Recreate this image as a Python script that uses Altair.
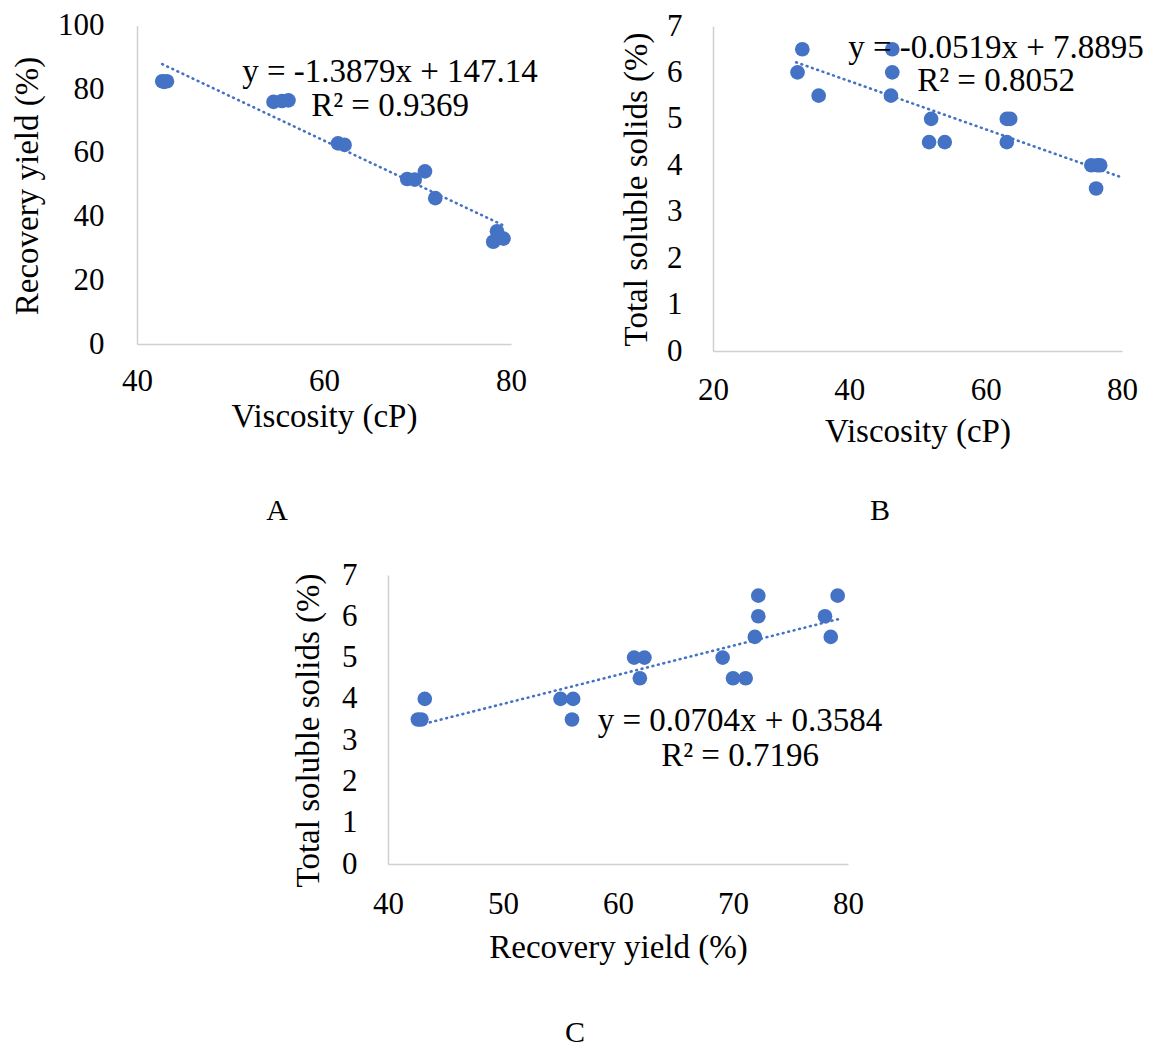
import altair as alt
import pandas as pd

# ---------------- data ----------------
# Panel A: Viscosity (cP) vs Recovery yield (%)
visc_A = [42.7, 42.9, 43.2, 54.6, 55.5, 56.2, 61.5, 62.2, 68.9, 69.7, 70.8, 71.9, 78.5, 78.1, 79.2]
yield_A = [82.5, 82.3, 82.5, 76.0, 76.3, 76.5, 63.0, 62.5, 51.8, 51.6, 54.2, 45.8, 35.4, 32.1, 33.1]
trend_A = [-1.3879, 147.14]
trend_x_A = [42.7, 79.2]
eq_A = ["y = -1.3879x + 147.14", "R² = 0.9369"]

# Panel B: Viscosity (cP) vs Total soluble solids (%)
visc_B = [33.1, 32.4, 35.5, 46.3, 46.3, 46.1, 52.0, 51.7, 54.0, 63.1, 63.6, 63.1, 75.5, 76.4, 76.8, 76.2]
tss_B = [6.5, 6.0, 5.5, 6.5, 6.0, 5.5, 5.0, 4.5, 4.5, 5.0, 5.0, 4.5, 4.0, 4.0, 4.0, 3.5]
trend_B = [-0.0519, 7.8895]
trend_x_B = [32.2, 80.0]
eq_B = ["y = -0.0519x + 7.8895", "R² = 0.8052"]

# Panel C: Recovery yield (%) vs Total soluble solids (%)
yield_C = [43.2, 42.6, 42.9, 55.0, 56.1, 56.0, 61.4, 62.3, 61.9, 69.1, 70.0, 71.1, 72.2, 72.2, 71.9, 78.0, 79.1, 78.5]
tss_C = [4.0, 3.5, 3.5, 4.0, 4.0, 3.5, 5.0, 5.0, 4.5, 5.0, 4.5, 4.5, 6.5, 6.0, 5.5, 6.0, 6.5, 5.5]
trend_C = [0.0704, 0.3584]
trend_x_C = [42.7, 79.5]
eq_C = ["y = 0.0704x + 0.3584", "R² = 0.7196"]

ticks_x_A = [40, 60, 80]
ticks_y_A = [0, 20, 40, 60, 80, 100]
ticks_x_B = [20, 40, 60, 80]
ticks_y_B = [0, 1, 2, 3, 4, 5, 6, 7]
ticks_x_C = [40, 50, 60, 70, 80]
ticks_y_C = [0, 1, 2, 3, 4, 5, 6, 7]

panel_letters = ["A", "B", "C"]

# ---------------- styling / layout ----------------
FONT = "Liberation Serif"
BLUE = "#4472C4"
W, H = 1145, 1041


def panel(xs, ys, xtitle, ytitle, xdom, ydom, xpx, ypx, xticks, yticks,
          coef, line_x, eq, eq_pos, eq_lh, xlab_base, xtitle_base, ylab_pad,
          ytitle_x, ytitle_y):
    pts = pd.DataFrame({"x": xs, "y": ys})
    line = pd.DataFrame({"x": line_x})
    xscale = alt.Scale(domain=xdom, range=xpx, nice=False, zero=False)
    yscale = alt.Scale(domain=ydom, range=ypx, nice=False, zero=False)
    xaxis = alt.Axis(
        orient="bottom", offset=ypx[0] - H, values=xticks, grid=False,
        ticks=False, tickSize=0, labelBaseline="alphabetic",
        labelPadding=xlab_base, title=xtitle, titleBaseline="alphabetic",
        titleY=xtitle_base, titleX=(xpx[0] + xpx[1]) / 2, labelFlush=False,
        format="d")
    yaxis = alt.Axis(
        orient="left", offset=-xpx[0], values=yticks, grid=False,
        ticks=False, tickSize=0, labelPadding=ylab_pad, title=ytitle,
        titleAngle=270, titleBaseline="middle", titleX=ytitle_x,
        titleY=ytitle_y, labelFlush=False, format="d")
    points = alt.Chart(pts).mark_circle(size=215, color=BLUE, opacity=1).encode(
        x=alt.X("x:Q", scale=xscale, axis=xaxis),
        y=alt.Y("y:Q", scale=yscale, axis=yaxis),
    )
    trend = alt.Chart(line).transform_calculate(
        y=f"{coef[0]} * datum.x + {coef[1]}"
    ).mark_line(color=BLUE, strokeWidth=2.6, strokeDash=[0.8, 4.8],
                strokeCap="round").encode(
        x=alt.X("x:Q", scale=xscale, axis=xaxis),
        y=alt.Y("y:Q", scale=yscale, axis=yaxis),
    )
    eq_text = alt.Chart(pd.DataFrame({"k": [0]})).mark_text(
        text=eq, font=FONT, fontSize=33, color="black", align="center",
        baseline="alphabetic", lineHeight=eq_lh,
    ).encode(x=alt.value(eq_pos[0]), y=alt.value(eq_pos[1]))
    return alt.layer(points, trend, eq_text)


pA = panel(visc_A, yield_A, "Viscosity (cP)", "Recovery yield (%)",
           [40, 80], [0, 100], [129, 503], [336, 17.5], ticks_x_A, ticks_y_A,
           trend_A, trend_x_A, eq_A, (382, 74), 33.5,
           46, 82.5, 33, -109.5, 177.5)
pB = panel(visc_B, tss_B, "Viscosity (cP)", "Total soluble solids (%)",
           [20, 80], [0, 7], [705, 1114], [343, 18], ticks_x_B, ticks_y_B,
           trend_B, trend_x_B, eq_B, (988, 49.5), 33.5,
           48.5, 90, 31, -76.3, 181)
pC = panel(yield_C, tss_C, "Recovery yield (%)", "Total soluble solids (%)",
           [40, 80], [0, 7], [380, 840], [856, 567], ticks_x_C, ticks_y_C,
           trend_C, trend_x_C, eq_C, (732, 723), 35,
           49, 93, 31, -79.5, 722)

letter_pos = [(269, 503), (872, 503), (567, 1025)]
letters = []
for lab, (px, py) in zip(panel_letters, letter_pos):
    letters.append(
        alt.Chart(pd.DataFrame({"t": [lab]})).mark_text(
            font=FONT, fontSize=30, color="black", align="center",
            baseline="middle").encode(text="t:N", x=alt.value(px), y=alt.value(py))
    )

chart = alt.layer(pA, pB, pC, *letters).resolve_scale(
    x="independent", y="independent"
).properties(
    width=W, height=H, autosize=alt.AutoSizeParams(type="none"), padding=0
).configure_view(stroke="transparent").configure_axis(
    labelFont=FONT, labelFontSize=31, labelColor="black",
    titleFont=FONT, titleFontSize=33, titleFontWeight="normal",
    titleColor="black", domainColor="#d0d0d0", domainWidth=1.5,
)

chart.save("out.html", embed_options={"renderer": "svg", "actions": False})
